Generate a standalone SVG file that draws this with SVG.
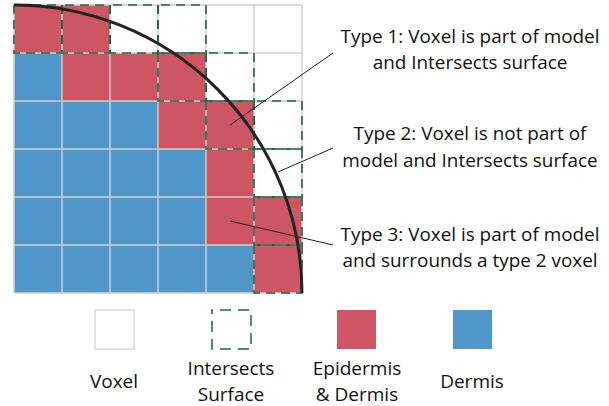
<svg xmlns="http://www.w3.org/2000/svg" width="609" height="406" viewBox="0 0 609 406">
<style>
.r{fill:#CE5563}
.b{fill:#5096C9}
.gl{stroke:#CFCFCF;stroke-width:1.5;fill:none}
.d{fill:none;stroke:#17683C;stroke-width:1.6;stroke-dasharray:9 6;stroke-dashoffset:-3}
.t{font-family:"Open Sans","Liberation Sans",sans-serif;font-size:18.9px;fill:#111;text-anchor:middle}
.lg{font-family:"Open Sans","Liberation Sans",sans-serif;font-size:19px;fill:#111;text-anchor:middle}
.ld{stroke:#222;stroke-width:1;fill:none}
</style>
<rect width="609" height="406" fill="#fff"/>
<g id="grid">
<rect class="r" x="14" y="5" width="96" height="48"/>
<rect class="b" x="14" y="53" width="48" height="48"/>
<rect class="r" x="62" y="53" width="144" height="48"/>
<rect class="b" x="14" y="101" width="144" height="48"/>
<rect class="r" x="158" y="101" width="96" height="48"/>
<rect class="b" x="14" y="149" width="192" height="96"/>
<rect class="r" x="206" y="149" width="48" height="96"/>
<rect class="r" x="254" y="197" width="48" height="96"/>
<rect class="b" x="14" y="245" width="240" height="48"/>
<path class="gl" d="M14 5H302M14 53H302M14 101H302M14 149H302M14 197H302M14 245H302M14 293H302M14 5V293M62 5V293M110 5V293M158 5V293M206 5V293M254 5V293M302 5V293"/>
</g>
<g id="intersect">
<rect class="d" x="14" y="5" width="48" height="48"/>
<rect class="d" x="62" y="5" width="48" height="48"/>
<rect class="d" x="110" y="5" width="48" height="48"/>
<rect class="d" x="158" y="5" width="48" height="48"/>
<rect class="d" x="158" y="53" width="48" height="48"/>
<rect class="d" x="206" y="53" width="48" height="48"/>
<rect class="d" x="206" y="101" width="48" height="48"/>
<rect class="d" x="254" y="101" width="48" height="48"/>
<rect class="d" x="254" y="149" width="48" height="48"/>
<rect class="d" x="254" y="197" width="48" height="48"/>
<rect class="d" x="254" y="245" width="48" height="48"/>
</g>
<g id="surface">
<path d="M14 5A288 288 0 0 1 302 293" fill="none" stroke="#222" stroke-width="3"/>
</g>
<g id="connectors">
<line class="ld" x1="230" y1="125" x2="333" y2="53"/>
<line class="ld" x1="278" y1="172" x2="333" y2="148"/>
<line class="ld" x1="230" y1="221" x2="333" y2="245"/>
</g>
<g id="type1"><text class="t" x="470" y="43">Type 1: Voxel is part of model</text><text class="t" x="470" y="69">and Intersects surface</text></g>
<g id="type2"><text class="t" x="470" y="140">Type 2: Voxel is not part of</text><text class="t" x="470" y="167">model and Intersects surface</text></g>
<g id="type3"><text class="t" x="470" y="241">Type 3: Voxel is part of model</text><text class="t" x="470" y="267">and surrounds a type 2 voxel</text></g>
<g id="legend-voxel"><rect x="95" y="310" width="39" height="39" fill="#fff" stroke="#D9D9D9" stroke-width="1.5"/><text class="lg" x="114" y="388">Voxel</text></g>
<g id="legend-intersects"><rect x="212" y="310" width="39" height="39" fill="none" stroke="#17683C" stroke-width="1.5" stroke-dasharray="11 7" stroke-dashoffset="-8"/><text class="lg" x="231" y="375">Intersects</text><text class="lg" x="231" y="401">Surface</text></g>
<g id="legend-epidermis"><rect class="r" x="337" y="310" width="39" height="39"/><text class="lg" x="357" y="375">Epidermis</text><text class="lg" x="357" y="401">&amp; Dermis</text></g>
<g id="legend-dermis"><rect class="b" x="453" y="310" width="39" height="39"/><text class="lg" x="472" y="388">Dermis</text></g>
</svg>
